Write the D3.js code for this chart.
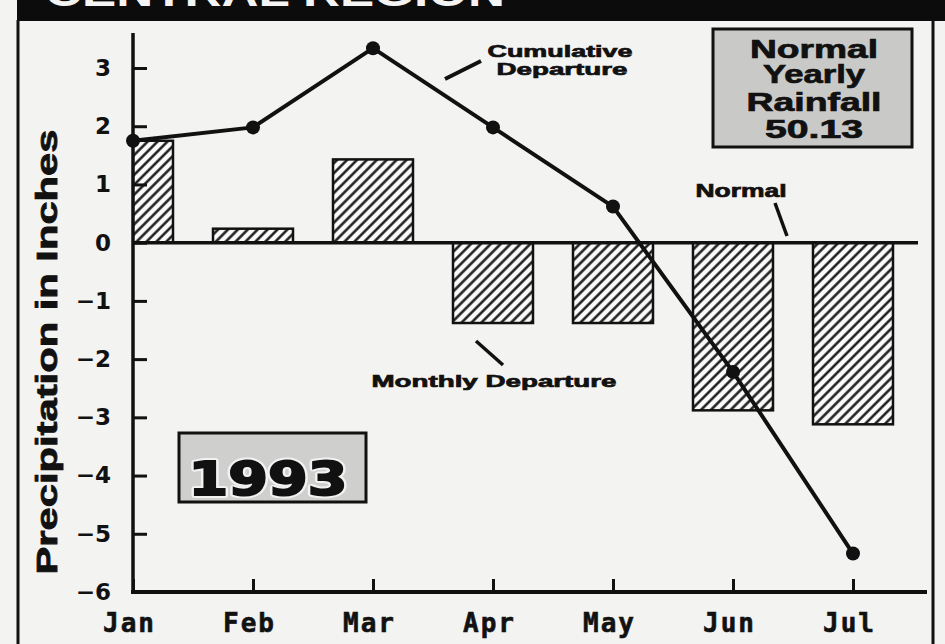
<!DOCTYPE html>
<html>
<head>
<meta charset="utf-8">
<script src="https://cdn.jsdelivr.net/npm/d3@7"></script>
<style>
  html, body { margin: 0; padding: 0; background: #f3f3f1; }
  svg { display: block; }
</style>
</head>
<body>
<div id="chart"></div>
<script>
// chart values
var months = ['Jan', 'Feb', 'Mar', 'Apr', 'May', 'Jun', 'Jul'];
var monthlyDeparture = [1.75, 0.24, 1.43, -1.38, -1.38, -2.88, -3.12];
var cumulativeDeparture = [1.75, 1.98, 3.34, 1.98, 0.62, -2.22, -5.34];
var yTicks = [3, 2, 1, 0, -1, -2, -3, -4, -5, -6];
var normalRain = ['Normal', 'Yearly', 'Rainfall', '50.13'];
var yearLabel = '1993';

var svgWidth = 945;
var svgHeight = 644;

// plot edges (not "top": that name is taken by window.top)
var plotLeft = 133, plotRight = 853, plotTop = 68, plotBottom = 592;

var svg = d3.select('#chart')
    .append('svg')
    .attr('width', svgWidth)
    .attr('height', svgHeight);

var defs = svg.append('defs');

// hatch for the monthly bars
defs.append('pattern')
    .attr('id', 'hatch')
    .attr('patternUnits', 'userSpaceOnUse')
    .attr('width', 7)
    .attr('height', 7)
    .attr('patternTransform', 'rotate(45)')
    .call(p => {
        p.append('rect').attr('width', 7).attr('height', 7).attr('fill', '#fafafa');
        p.append('line').attr('x1', 1.5).attr('x2', 1.5).attr('y1', 0).attr('y2', 7)
            .attr('stroke', '#111').attr('stroke-width', 2.4);
    });

defs.append('clipPath').attr('id', 'plotclip')
    .append('rect').attr('x', plotLeft).attr('y', 0).attr('width', svgWidth - plotLeft).attr('height', svgHeight);

// paper
svg.append('rect').attr('width', svgWidth).attr('height', svgHeight).attr('fill', '#f3f3f1');

// black banner at the top with the cut off title
svg.append('rect').attr('x', 17).attr('y', 0).attr('width', svgWidth - 17).attr('height', 21).attr('fill', '#0c0c0c');
svg.append('text')
    .attr('x', 45).attr('y', 6)
    .attr('font-family', 'Liberation Sans, Arial, sans-serif')
    .attr('font-weight', 'bold')
    .attr('font-size', 40)
    .attr('textLength', 460)
    .attr('lengthAdjust', 'spacingAndGlyphs')
    .attr('fill', '#f4f4f4')
    .text('CENTRAL REGION');

// frame
svg.append('line').attr('x1', 18).attr('x2', 18).attr('y1', 20).attr('y2', svgHeight)
    .attr('stroke', '#111').attr('stroke-width', 3);
svg.append('line').attr('x1', 933).attr('x2', 933).attr('y1', 20).attr('y2', svgHeight)
    .attr('stroke', '#111').attr('stroke-width', 3);

// scales
var xScale = d3.scalePoint().domain(months).range([plotLeft, plotRight]);
var yScale = d3.scaleLinear().domain([-6, 3]).range([plotBottom, plotTop]);
var barWidth = xScale.step() * 2 / 3;

var chartGroup = svg.append('g');

// monthly departure bars
chartGroup.append('g')
    .attr('clip-path', 'url(#plotclip)')
    .selectAll('rect')
    .data(monthlyDeparture)
    .enter()
    .append('rect')
    .attr('x', (d, i) => xScale(months[i]) - barWidth / 2)
    .attr('y', d => yScale(Math.max(0, d)))
    .attr('width', barWidth)
    .attr('height', d => Math.abs(yScale(d) - yScale(0)))
    .attr('fill', 'url(#hatch)')
    .attr('stroke', '#111')
    .attr('stroke-width', 2.5);

// normal line
chartGroup.append('line')
    .attr('x1', plotLeft).attr('x2', 918)
    .attr('y1', yScale(0)).attr('y2', yScale(0))
    .attr('stroke', '#111').attr('stroke-width', 3.5);

// y axis
var leftAxis = d3.axisLeft(yScale)
    .tickValues(yTicks)
    .tickSizeInner(-14)
    .tickSizeOuter(0)
    .tickPadding(22)
    .tickFormat(d => d < 0 ? '\u2212' + Math.abs(d) : d);

var yAxisG = chartGroup.append('g')
    .attr('transform', `translate(${plotLeft}, 0)`)
    .call(leftAxis);
yAxisG.select('.domain').remove();
yAxisG.selectAll('line').attr('stroke', '#111').attr('stroke-width', 3);
yAxisG.selectAll('text')
    .attr('font-family', 'DejaVu Sans, sans-serif')
    .attr('font-weight', 'bold')
    .attr('font-size', 23)
    .attr('fill', '#111');
chartGroup.append('line')
    .attr('x1', plotLeft).attr('x2', plotLeft).attr('y1', 33).attr('y2', plotBottom)
    .attr('stroke', '#111').attr('stroke-width', 3.5);

// x axis
var bottomAxis = d3.axisBottom(xScale)
    .tickSizeInner(-13)
    .tickSizeOuter(0)
    .tickPadding(22);

var xAxisG = chartGroup.append('g')
    .attr('transform', `translate(0, ${plotBottom})`)
    .call(bottomAxis);
xAxisG.select('.domain').remove();
xAxisG.selectAll('line').attr('stroke', '#111').attr('stroke-width', 3);
xAxisG.selectAll('text')
    .attr('font-family', 'DejaVu Sans Mono, monospace')
    .attr('font-weight', 'bold')
    .attr('font-size', 26)
    .attr('letter-spacing', 2)
    .attr('dx', -4)
    .attr('fill', '#111')
    .attr('stroke', '#111')
    .attr('stroke-width', 0.6);
chartGroup.append('line')
    .attr('x1', plotLeft - 2).attr('x2', 927).attr('y1', plotBottom).attr('y2', plotBottom)
    .attr('stroke', '#111').attr('stroke-width', 4);

// cumulative departure line and points
var line = d3.line()
    .x((d, i) => xScale(months[i]))
    .y(d => yScale(d));

chartGroup.append('path')
    .datum(cumulativeDeparture)
    .attr('d', line)
    .attr('fill', 'none')
    .attr('stroke', '#111')
    .attr('stroke-width', 4)
    .attr('stroke-linejoin', 'round');

chartGroup.selectAll('.dot')
    .data(cumulativeDeparture)
    .enter()
    .append('circle')
    .attr('class', 'dot')
    .attr('cx', (d, i) => xScale(months[i]))
    .attr('cy', d => yScale(d))
    .attr('r', 7)
    .attr('fill', '#111');

// labels helper
function label(g, txt, x, y, size, width) {
    return g.append('text')
        .attr('x', x).attr('y', y)
        .attr('text-anchor', 'middle')
        .attr('font-family', 'Liberation Sans, Arial, sans-serif')
        .attr('font-weight', 'bold')
        .attr('font-size', size)
        .attr('textLength', width)
        .attr('lengthAdjust', 'spacingAndGlyphs')
        .attr('fill', '#111')
        .attr('stroke', '#111')
        .attr('stroke-width', 0.7)
        .text(txt);
}

// y title
svg.append('text')
    .attr('transform', 'translate(57, 352) rotate(-90)')
    .attr('text-anchor', 'middle')
    .attr('font-family', 'Liberation Sans, Arial, sans-serif')
    .attr('font-weight', 'bold')
    .attr('font-size', 30)
    .attr('textLength', 445)
    .attr('lengthAdjust', 'spacingAndGlyphs')
    .attr('fill', '#111')
    .attr('stroke', '#111')
    .attr('stroke-width', 0.8)
    .text('Precipitation in Inches');

// annotations
var notes = svg.append('g');
label(notes, 'Cumulative', 560, 57, 17, 145);
label(notes, 'Departure', 562, 75, 17, 131);
notes.append('line').attr('x1', 445).attr('y1', 79).attr('x2', 481).attr('y2', 61)
    .attr('stroke', '#111').attr('stroke-width', 4);

label(notes, 'Monthly Departure', 494, 387, 17, 245);
notes.append('line').attr('x1', 476).attr('y1', 341).attr('x2', 503).attr('y2', 365)
    .attr('stroke', '#111').attr('stroke-width', 3.5);

label(notes, 'Normal', 741, 197, 18, 91);
notes.append('line').attr('x1', 775).attr('y1', 203).attr('x2', 787).attr('y2', 236)
    .attr('stroke', '#111').attr('stroke-width', 3.5);

// normal yearly rainfall box
var box = svg.append('g');
box.append('rect').attr('x', 713).attr('y', 29).attr('width', 199).attr('height', 118)
    .attr('fill', '#c9c9c7').attr('stroke', '#111').attr('stroke-width', 3);
var boxLines = [[128, 58], [102, 83], [135, 111], [98, 138]];
normalRain.forEach((t, i) => {
    label(box, t, 814, boxLines[i][1], 25, boxLines[i][0]);
});

// 1993 box
var yearBox = svg.append('g');
yearBox.append('rect').attr('x', 179).attr('y', 433).attr('width', 187).attr('height', 69)
    .attr('fill', '#cfcfcd').attr('stroke', '#111').attr('stroke-width', 3);
yearBox.append('text')
    .attr('x', 268).attr('y', 495)
    .attr('text-anchor', 'middle')
    .attr('font-family', 'DejaVu Sans, sans-serif')
    .attr('font-weight', 'bold')
    .attr('font-size', 46)
    .attr('textLength', 159)
    .attr('lengthAdjust', 'spacingAndGlyphs')
    .attr('fill', '#111')
    .attr('stroke', '#f2f2f2')
    .attr('stroke-width', 6)
    .attr('stroke-linejoin', 'round')
    .text(yearLabel);
yearBox.append('text')
    .attr('x', 268).attr('y', 495)
    .attr('text-anchor', 'middle')
    .attr('font-family', 'DejaVu Sans, sans-serif')
    .attr('font-weight', 'bold')
    .attr('font-size', 46)
    .attr('textLength', 159)
    .attr('lengthAdjust', 'spacingAndGlyphs')
    .attr('fill', '#111')
    .attr('stroke', '#111')
    .attr('stroke-width', 2)
    .text(yearLabel);
</script>
</body>
</html>
